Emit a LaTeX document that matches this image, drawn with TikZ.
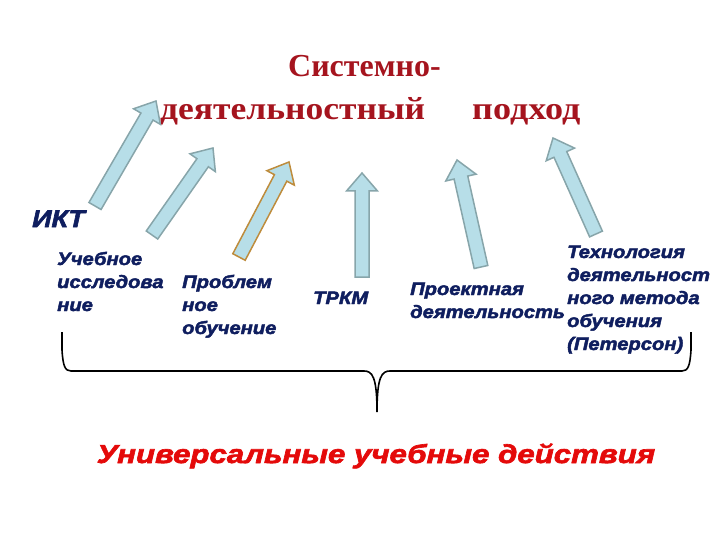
\documentclass[tikz,border=0pt]{standalone}
\usepackage{fontspec}
\setmainfont{Liberation Serif}
\newfontfamily\lblfont{Liberation Sans}[FakeStretch=1.12, FakeBold=2.5]
\newfontfamily\uudfont{Liberation Sans}[FakeStretch=1.2, FakeBold=2.5]
\definecolor{titlered}{RGB}{165,20,30}
\definecolor{lblblue}{RGB}{15,30,95}
\definecolor{uudred}{RGB}{228,10,10}
\definecolor{arrfill}{RGB}{183,222,232}
\definecolor{arredge}{RGB}{135,165,170}
\definecolor{arrgold}{RGB}{190,140,60}
\usetikzlibrary{calc}

% block arrow from tail to tip
\newcommand{\fatarrow}[3]{%
  \coordinate (hb) at ($(#3)!18pt!(#2)$);
  \draw[#1] ($(#2)!7pt!90:(#3)$) -- ($(hb)!7pt!90:(#3)$) -- ($(hb)!15.5pt!90:(#3)$)
    -- (#3) -- ($(hb)!15.5pt!-90:(#3)$) -- ($(hb)!7pt!-90:(#3)$) -- ($(#2)!7pt!-90:(#3)$) -- cycle;}

\begin{document}
\begin{tikzpicture}[x=1pt, y=-1pt,
    ttl/.style={font=\fontsize{32}{38}\selectfont\bfseries, text=titlered,
                inner sep=0pt, anchor=base west},
    lbl/.style={font=\lblfont\fontsize{18}{23}\selectfont\bfseries\itshape,
                text=lblblue, align=left, inner sep=0pt, anchor=base west},
    blk/.style={draw=arredge, fill=arrfill, line width=1.5pt},
    blkgold/.style={blk, draw=arrgold}
  ]
  \useasboundingbox (0,0) rectangle (720,540);

  % title
  \node[ttl] (ttl1) at (288,77) {Системно-};
  \node[ttl, xscale=1.11, transform shape] (ttl2) at (160,120) {деятельностный};
  \node[ttl, xscale=1.13, transform shape] (ttl3) at (472,120) {подход};

  % arrows
  \coordinate (t1) at (95,206);  \coordinate (h1) at (156,101);
  \coordinate (t2) at (152,235); \coordinate (h2) at (213,148);
  \coordinate (t3) at (239,257); \coordinate (h3) at (289,162);
  \coordinate (t4) at (362,277); \coordinate (h4) at (362,173);
  \coordinate (t5) at (481,267); \coordinate (h5) at (457,160);
  \coordinate (t6) at (596,234); \coordinate (h6) at (553,138);
  \fatarrow{blk}{t1}{h1}
  \fatarrow{blk}{t2}{h2}
  \fatarrow{blkgold}{t3}{h3}
  \fatarrow{blk}{t4}{h4}
  \fatarrow{blk}{t5}{h5}
  \fatarrow{blk}{t6}{h6}

  % labels (anchor at baseline of last line)
  \node[lbl, font=\lblfont\fontsize{24}{28}\selectfont\bfseries\itshape] (ikt) at (32,227) {ИКТ};
  \node[lbl] (research) at (57,311) {Учебное\\исследова\\ние};
  \node[lbl] (problem) at (182,334) {Проблем\\ное\\обучение};
  \node[lbl] (trkm) at (313,304) {ТРКМ};
  \node[lbl] (project) at (410,318) {Проектная\\деятельность};
  \node[lbl] (peterson) at (567,350) {Технология\\деятельност\\ного метода\\обучения\\(Петерсон)};

  % brace
  \draw[line width=1.6pt] (62,332) -- (62,350) .. controls (63,366) and (65,371) .. (71,371)
    -- (364,371) .. controls (372,371) and (377,376) .. (377,412)
    .. controls (377,376) and (382,371) .. (390,371) -- (682,371)
    .. controls (688,371) and (690,366) .. (691,350) -- (691,332);

  \node[font=\uudfont\fontsize{26}{30}\selectfont\bfseries\itshape, text=uudred,
        inner sep=0pt, anchor=base] (uud) at (376,463) {Универсальные учебные действия};
\end{tikzpicture}
\end{document}
